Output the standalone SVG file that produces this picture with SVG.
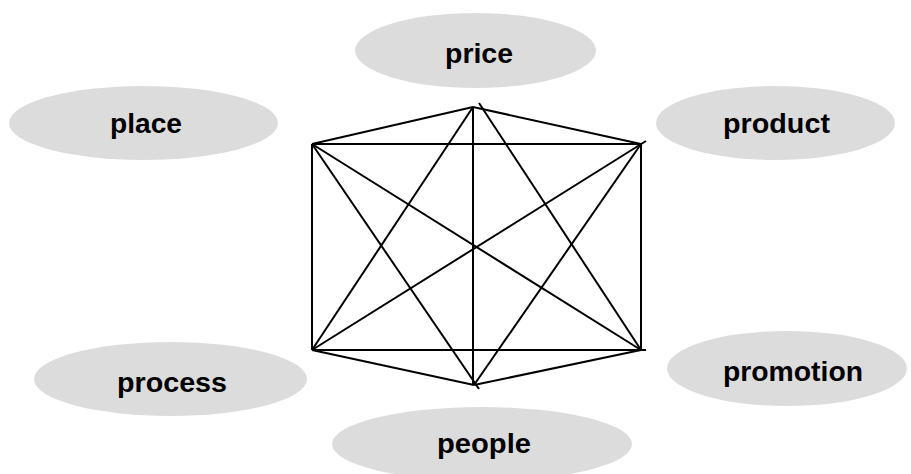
<svg xmlns="http://www.w3.org/2000/svg" width="911" height="474" viewBox="0 0 911 474">
<style>
.n ellipse{fill:#dcdcdc;stroke:none}
.n text{font-family:"Liberation Sans",Arial,sans-serif;font-weight:bold;font-size:27px;fill:#000;text-anchor:middle}
.e line{stroke:#000;stroke-width:2;stroke-linecap:butt}
</style>
<rect width="911" height="474" fill="#fff"/>
<g id="price" class="n"><ellipse cx="475.5" cy="50.5" rx="120.5" ry="37.5"/><text x="479" y="63" textLength="68" lengthAdjust="spacingAndGlyphs">price</text></g>
<g id="place" class="n"><ellipse cx="143.5" cy="123" rx="134.5" ry="37"/><text x="146" y="133" textLength="72" lengthAdjust="spacingAndGlyphs">place</text></g>
<g id="product" class="n"><ellipse cx="775.5" cy="123" rx="119.5" ry="37"/><text x="776.5" y="133" textLength="107" lengthAdjust="spacingAndGlyphs">product</text></g>
<g id="process" class="n"><ellipse cx="170.5" cy="379" rx="136.5" ry="37"/><text x="172" y="392" textLength="110" lengthAdjust="spacingAndGlyphs">process</text></g>
<g id="promotion" class="n"><ellipse cx="787" cy="368.5" rx="120" ry="37.5"/><text x="793" y="381" textLength="140" lengthAdjust="spacingAndGlyphs">promotion</text></g>
<g id="people" class="n"><ellipse cx="482" cy="444" rx="150" ry="37"/><text x="484" y="453" textLength="94" lengthAdjust="spacingAndGlyphs">people</text></g>
<g id="connectors" class="e">
<line x1="473" y1="107" x2="312" y2="144"/>
<line x1="473" y1="107" x2="641" y2="144"/>
<line x1="641" y1="144" x2="641" y2="350"/>
<line x1="641" y1="350" x2="474" y2="385"/>
<line x1="474" y1="385" x2="312" y2="350"/>
<line x1="312" y1="350" x2="312" y2="144"/>
<line x1="312" y1="144" x2="641" y2="144"/>
<line x1="312" y1="350" x2="646" y2="350"/>
<line x1="473" y1="107" x2="473" y2="385"/>
<line x1="312" y1="144" x2="641" y2="350"/>
<line x1="646" y1="141" x2="312" y2="350"/>
<line x1="473" y1="107" x2="312" y2="350"/>
<line x1="479" y1="103" x2="641" y2="350"/>
<line x1="312" y1="144" x2="479" y2="389"/>
<line x1="474" y1="385" x2="641" y2="144"/>
</g>
</svg>
